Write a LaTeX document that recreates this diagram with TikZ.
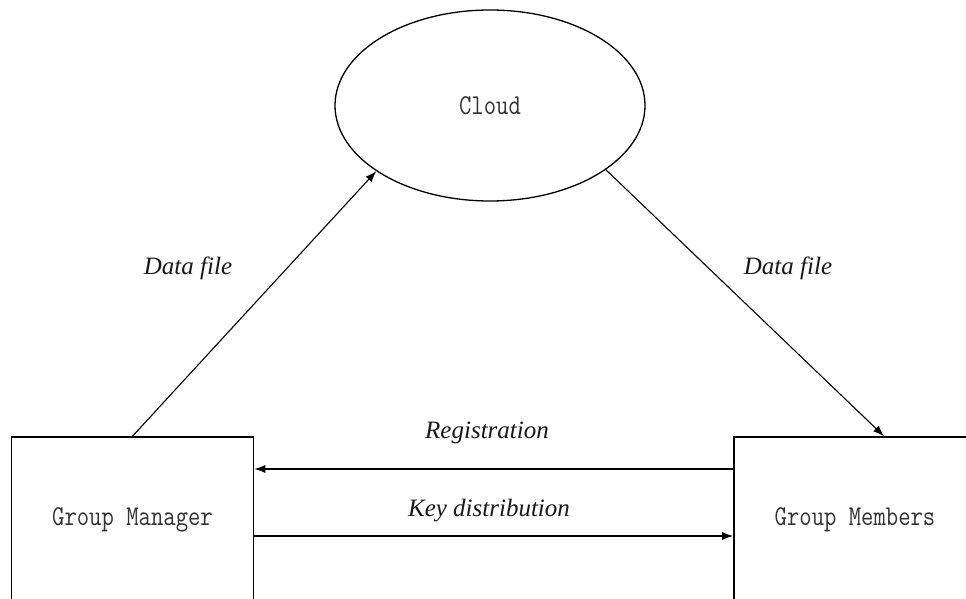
\documentclass[tikz,border=0pt]{standalone}
\usepackage{fontspec}
\setmainfont{Liberation Serif}
\usetikzlibrary{shapes.geometric,arrows.meta,calc}
\newcommand{\tallText}[1]{\scalebox{1}[1.2]{#1}}
\begin{document}
\begin{tikzpicture}[x=1pt,y=-1pt,
  boxnode/.style={draw,line width=1.6pt,minimum width=242pt,minimum height=166pt,inner sep=0pt,
    font=\ttfamily\fontsize{24}{28}\selectfont,text=black!80},
  cloudnode/.style={draw,line width=1.3pt,ellipse,minimum width=310pt,minimum height=191pt,inner sep=0pt,
    font=\ttfamily\fontsize{24}{28}\selectfont,text=black!80},
  lbl/.style={font=\itshape\fontsize{25}{30}\selectfont,text=black!90,inner sep=0pt},
  conn/.style={line width=1.1pt,-{Latex[length=11pt,width=8pt]}}]
\useasboundingbox (0,0) rectangle (966,599);
\clip (0,0) rectangle (966,599);
\fill[white] (0,0) rectangle (966,599);
\node[cloudnode] (cloud) at (490,105.5) {\tallText{Cloud}};
\node[boxnode] (gm) at (132.5,520) {\tallText{Group Manager}};
\node[boxnode] (gmem) at (855,520) {\tallText{Group Members}};
\draw[conn] (gm.north) -- (cloud.210);
\draw[conn] (cloud.-29) -- ([xshift=29pt]gmem.north);
\draw[conn] ([yshift=51pt]gmem.west) -- ([yshift=51pt]gm.east);
\draw[conn] ([yshift=-16pt]gm.east) -- ([yshift=-16pt]gmem.west);
\node[lbl] (l1) at (188,268) {Data file};
\node[lbl] (l2) at (788,268) {Data file};
\node[lbl] (l3) at (487,433) {Registration};
\node[lbl] (l4) at (489,511) {Key distribution};
\end{tikzpicture}
\end{document}
